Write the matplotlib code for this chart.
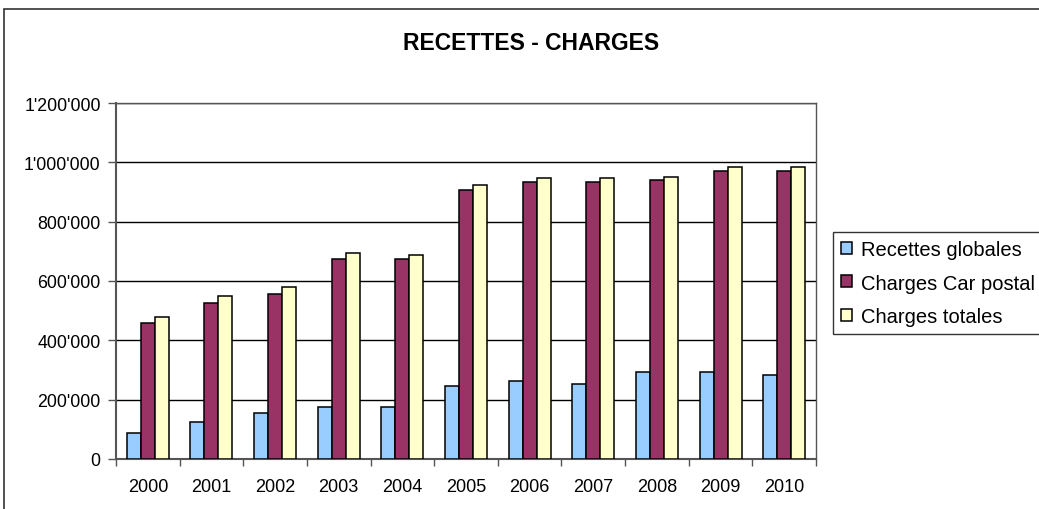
import numpy as np
import matplotlib
matplotlib.use("Agg")
import matplotlib.pyplot as plt
from matplotlib.patches import Rectangle

plt.rcParams['font.family'] = ['Liberation Sans', 'DejaVu Sans']

# data
years = ['2000', '2001', '2002', '2003', '2004', '2005', '2006', '2007', '2008', '2009', '2010']
recettes = [87000, 125000, 154000, 174000, 174000, 245000, 264000, 254000, 292000, 292000, 282000]
charges_car = [460000, 526000, 555000, 674000, 674000, 908000, 933000, 933000, 942000, 970000, 970000]
charges_tot = [478000, 551000, 579000, 694000, 688000, 922000, 946000, 946000, 952000, 985000, 985000]
series_names = ['Recettes globales', 'Charges Car postal', 'Charges totales']
ytick_vals = [0, 200000, 400000, 600000, 800000, 1000000, 1200000]
ytick_labels = ['0', "200'000", "400'000", "600'000", "800'000", "1'000'000", "1'200'000"]

colors = ['#99CCFF', '#993366', '#FFFFCC']

W, H = 1039, 510
fig = plt.figure(figsize=(W / 100, H / 100), dpi=100)
ax = fig.add_axes([116 / W, 1 - 460 / H, 700 / W, 356 / H])

x = np.arange(len(years))
bw = 0.22
for i, vals in enumerate([recettes, charges_car, charges_tot]):
    ax.bar(x + (i - 1) * bw, vals, width=bw, color=colors[i], edgecolor='black',
           linewidth=1.1, label=series_names[i], zorder=3)

ax.set_xlim(-0.5, len(years) - 0.5)
ax.set_ylim(0, 1200000)
ax.set_yticks(ytick_vals)
ax.set_yticklabels(ytick_labels, fontsize=12.8)
ax.set_xticks(x)
ax.set_xticklabels(years, fontsize=13)
ax.tick_params(axis='x', length=0, pad=14)
ax.set_xticks(np.arange(-0.5, len(years)), minor=True)
ax.tick_params(axis='x', which='minor', length=5, width=1, color='#555555')
ax.tick_params(axis='y', length=6, width=1, color='#555555', pad=5)
ax.yaxis.grid(True, color='black', linewidth=1, zorder=0)
for s in ax.spines.values():
    s.set_color('#555555')
    s.set_linewidth(1)
ax.spines['left'].set_linewidth(1.5)
ax.spines['bottom'].set_linewidth(1.5)

fig.text(531 / W, 1 - 44 / H, 'RECETTES - CHARGES', ha='center', va='center',
         fontsize=16.5, fontweight='bold')

leg = fig.legend(loc='upper left', bbox_to_anchor=(833 / W, 1 - 233 / H),
                 fontsize=14.5, frameon=True, fancybox=False, edgecolor='black',
                 handlelength=0.55, handleheight=0.55, handletextpad=0.45,
                 borderpad=0.4, labelspacing=0.72, borderaxespad=0)
leg.get_frame().set_linewidth(1)

# outer chart border, clipped at right and bottom
fig.patches.append(Rectangle((4 / W, -0.2), 1.2, 1.2 - 10 / H, transform=fig.transFigure,
                             fill=False, edgecolor='#333333', linewidth=1.2))

fig.savefig('out.png', dpi=100)
